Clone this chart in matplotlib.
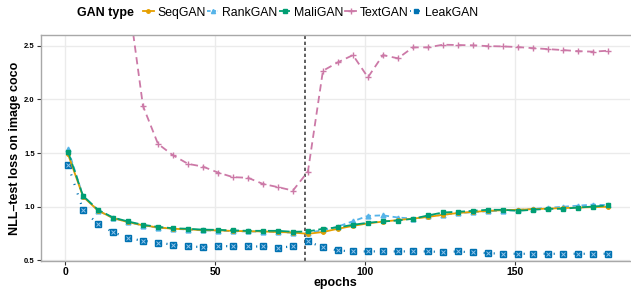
import matplotlib
matplotlib.use("Agg")
import matplotlib.pyplot as plt
from matplotlib.lines import Line2D

plt.rcParams['font.family'] = ['Liberation Sans', 'DejaVu Sans']

epochs = [1, 6, 11, 16, 21, 26, 31, 36, 41, 46, 51, 56, 61, 66, 71, 76, 81, 86, 91,
          96, 101, 106, 111, 116, 121, 126, 131, 136, 141, 146, 151, 156, 161, 166,
          171, 176, 181]

seqgan = [1.49, 1.095, 0.965, 0.895, 0.857, 0.827, 0.808, 0.795, 0.79, 0.782, 0.78,
          0.775, 0.772, 0.77, 0.765, 0.76, 0.748, 0.765, 0.795, 0.822, 0.845, 0.862,
          0.876, 0.89, 0.905, 0.925, 0.942, 0.952, 0.962, 0.968, 0.972, 0.978, 0.983,
          0.988, 0.992, 0.997, 1.0]
rankgan = [1.536, 1.10, 0.965, 0.895, 0.857, 0.825, 0.805, 0.795, 0.788, 0.78, 0.778,
           0.772, 0.77, 0.768, 0.765, 0.758, 0.76, 0.78, 0.816, 0.865, 0.915, 0.92,
           0.90, 0.89, 0.91, 0.925, 0.94, 0.95, 0.958, 0.963, 0.97, 0.98, 0.99, 1.0,
           1.01, 1.02, 1.015]
maligan = [1.514, 1.102, 0.972, 0.90, 0.863, 0.832, 0.813, 0.80, 0.795, 0.787, 0.785,
           0.78, 0.776, 0.776, 0.776, 0.767, 0.77, 0.795, 0.808, 0.832, 0.851, 0.863,
           0.872, 0.888, 0.919, 0.947, 0.953, 0.962, 0.972, 0.972, 0.962, 0.972, 0.981,
           0.981, 0.993, 1.002, 1.012]
textgan = [5.0, 4.4, 3.9, 3.4, 2.97, 1.939, 1.586, 1.48, 1.40, 1.374, 1.319, 1.276,
           1.27, 1.213, 1.183, 1.151, 1.328, 2.267, 2.346, 2.413, 2.206, 2.413, 2.383,
           2.485, 2.485, 2.51, 2.507, 2.504, 2.497, 2.494, 2.488, 2.478, 2.469, 2.46,
           2.45, 2.445, 2.454]
leakgan = [1.39, 0.972, 0.839, 0.764, 0.708, 0.683, 0.667, 0.646, 0.63, 0.625, 0.637,
           0.63, 0.63, 0.63, 0.62, 0.63, 0.677, 0.621, 0.593, 0.584, 0.584, 0.584,
           0.584, 0.584, 0.584, 0.578, 0.584, 0.574, 0.568, 0.562, 0.562, 0.562, 0.562,
           0.562, 0.562, 0.562, 0.562]

fig = plt.figure(figsize=(6.31, 2.92), dpi=100)
ax = fig.add_axes([0.065, 0.107, 0.933, 0.773])

c_seq, c_rank, c_mali, c_text, c_leak = '#E69F00', '#56B4E9', '#009E73', '#CC79A7', '#0072B2'

ax.axvline(80, color='#444444', lw=1.2, ls=(0, (2.0, 1.6)), zorder=1)

ax.plot(epochs, textgan, color=c_text, lw=1.3, ls=(0, (4, 2.5)), marker='+', ms=5, mew=1.0, zorder=2)
ax.plot(epochs, leakgan, color=c_leak, lw=1.6, ls=(0, (0.5, 4)), zorder=2)
ax.plot(epochs, leakgan, ls='none', marker='s', ms=4, color=c_leak, zorder=3)
ax.plot(epochs, leakgan, ls='none', marker='x', ms=2.8, mew=0.7, color='#8fc3ea', zorder=4)
ax.plot(epochs, rankgan, color=c_rank, lw=1.3, ls=(0, (3, 2)), marker='^', ms=3.5, zorder=3)
ax.plot(epochs, seqgan, color=c_seq, lw=1.3, marker='o', ms=2.5, zorder=4)
ax.plot(epochs, maligan, color=c_mali, lw=1.3, ls=(0, (5, 2)), marker='s', ms=3.2, zorder=5)

ax.set_xlim(-8, 188.3)
ax.set_ylim(0.497, 2.6)
ax.set_xticks([0, 50, 100, 150])
ax.set_yticks([0.5, 1.0, 1.5, 2.0, 2.5])
ax.set_yticklabels(['0.5', '1.0', '1.5', '2.0', '2.5'])
ax.grid(True, color='#EBEBEB', lw=1.0)
ax.set_axisbelow(True)
for s in ax.spines.values():
    s.set_color('#A8A8A8')
    s.set_linewidth(1.0)
ax.spines['right'].set_visible(False)
ax.tick_params(axis='x', labelsize=7.5, length=3, color='#333333', pad=1.5)
ax.tick_params(axis='y', labelsize=5.5, length=3, color='#333333', pad=1.5)
for lab in ax.get_xticklabels() + ax.get_yticklabels():
    lab.set_fontweight('bold')

ax.set_xlabel('epochs', fontsize=9, fontweight='bold', labelpad=0)
ax.set_ylabel('NLL\u2013test loss on image coco', fontsize=9, fontweight='bold', labelpad=2)

handles = [
    Line2D([], [], color=c_seq, lw=1.3, marker='o', ms=2.5),
    Line2D([], [], color=c_rank, lw=1.3, ls=(0, (2, 1)), marker='^', ms=3),
    Line2D([], [], color=c_mali, lw=1.3, ls=(0, (3, 1)), marker='s', ms=3),
    Line2D([], [], color=c_text, lw=1.3, marker='+', ms=4),
    Line2D([], [], color=c_leak, lw=1.3, ls=(0, (0.5, 2)), marker='s', ms=3.5),
]
labels = ['SeqGAN', 'RankGAN', 'MaliGAN', 'TextGAN', 'LeakGAN']
fig.text(0.122, 0.957, 'GAN type', fontsize=9, fontweight='bold', va='center')
fig.legend(handles, labels, loc='center left', bbox_to_anchor=(0.226, 0.957), ncol=5,
           frameon=False, fontsize=8.8, handlelength=0.9, handletextpad=0.3,
           columnspacing=0.15, borderpad=0, borderaxespad=0)

fig.savefig('out.png', dpi=100)
